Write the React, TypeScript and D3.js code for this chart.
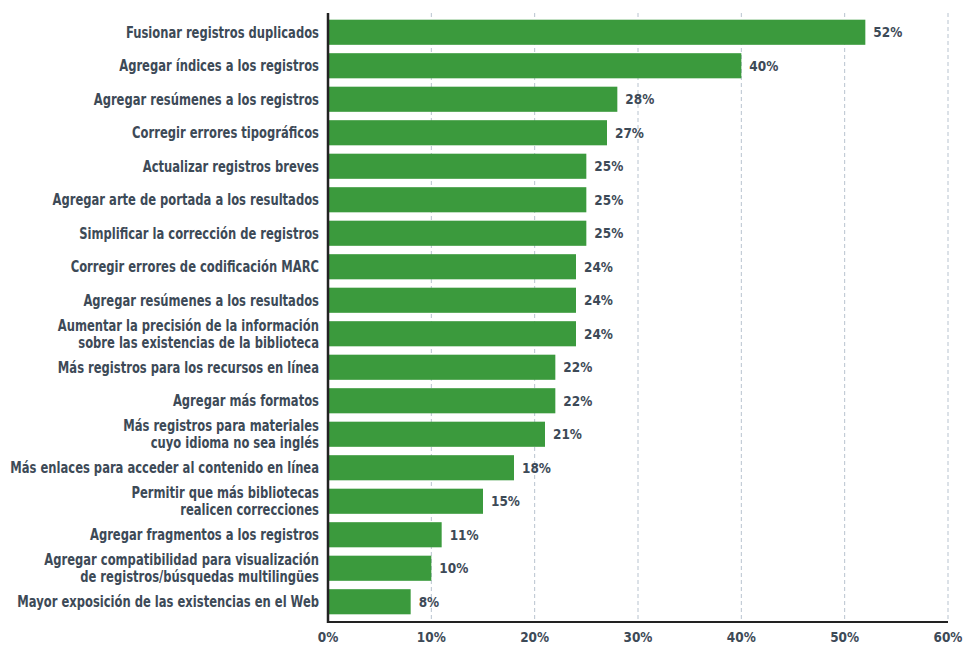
import React, { useLayoutEffect, useRef, useState } from "react";
import * as d3 from "d3";

const categories: string[][] = [
  ["Fusionar registros duplicados"],
  ["Agregar índices a los registros"],
  ["Agregar resúmenes a los registros"],
  ["Corregir errores tipográficos"],
  ["Actualizar registros breves"],
  ["Agregar arte de portada a los resultados"],
  ["Simplificar la corrección de registros"],
  ["Corregir errores de codificación MARC"],
  ["Agregar resúmenes a los resultados"],
  ["Aumentar la precisión de la información", "sobre las existencias de la biblioteca"],
  ["Más registros para los recursos en línea"],
  ["Agregar más formatos"],
  ["Más registros para materiales", "cuyo idioma no sea inglés"],
  ["Más enlaces para acceder al contenido en línea"],
  ["Permitir que más bibliotecas", "realicen correcciones"],
  ["Agregar fragmentos a los registros"],
  ["Agregar compatibilidad para visualización", "de registros/búsquedas multilingües"],
  ["Mayor exposición de las existencias en el Web"],
];
const values: number[] = [52, 40, 28, 27, 25, 25, 25, 24, 24, 24, 22, 22, 21, 18, 15, 11, 10, 8];
const ticks: number[] = [0, 10, 20, 30, 40, 50, 60];

const W = 965;
const H = 647;
const FONT = "'DejaVu Sans Condensed', 'DejaVu Sans', sans-serif";
const TEXT = "#3d4a57";
const BAR = "#3b9a3d";

export default function App() {
  const measRef = useRef<SVGTextElement>(null);
  const pctRef = useRef<SVGTextElement>(null);
  const [k, setK] = useState(0.85);
  const [kp, setKp] = useState(0.85);
  const [measured, setMeasured] = useState(false);
  useLayoutEffect(() => {
    if (measRef.current) {
      const w = measRef.current.getComputedTextLength();
      if (w > 0) setK(302 / w);
    }
    if (pctRef.current) {
      const w = pctRef.current.getComputedTextLength();
      if (w > 0) setKp(29 / w);
    }
    setMeasured(true);
  }, []);

  const x = d3.scaleLinear().domain([0, 60]).range([328, 948]);
  const idx = d3.range(values.length).map(String);
  const y = d3.scaleBand().domain(idx).range([15, 619]).paddingInner(0.25).paddingOuter(0.14);
  const top = 13;
  const bottom = 622;
  return (
    <svg width={W} height={H} style={{ position: "absolute", left: 0, top: 0 }} fontFamily={FONT}>
      {!measured && (
        <g visibility="hidden">
          <text ref={measRef} x={400} y={300} fontSize={15} fontWeight="bold">
            Mayor exposición de las existencias en el Web
          </text>
          <text ref={pctRef} x={400} y={330} fontSize={14} fontWeight="bold">
            52%
          </text>
        </g>
      )}
      {ticks.slice(1).map((t) => (
        <line key={t} x1={x(t)} x2={x(t)} y1={top} y2={bottom} stroke="#b8c3cf" strokeWidth={1} strokeDasharray="4,3" />
      ))}
      {values.map((v, i) => {
        const yy = y(String(i))!;
        const bw = y.bandwidth();
        const cy = yy + bw / 2;
        const lines = categories[i];
        return (
          <g key={i}>
            <rect x={x(0)} y={yy} width={x(v) - x(0)} height={bw} fill={BAR} />
            <text
              transform={`translate(${x(v) + 8},${cy}) scale(${kp},1)`}
              dy="0.36em"
              fontSize={14}
              fontWeight="bold"
              fill={TEXT}
            >
              {v}%
            </text>
            {lines.map((l, j) => (
              <text
                key={j}
                transform={`translate(319,${cy + (j - (lines.length - 1) / 2) * 17}) scale(${k},1)`}
                dy="0.36em"
                textAnchor="end"
                fontSize={15}
                fontWeight="bold"
                fill={TEXT}
              >
                {l}
              </text>
            ))}
          </g>
        );
      })}
      <line x1={x(0)} x2={x(0)} y1={top} y2={bottom + 1} stroke="#222" strokeWidth={2.5} />
      <line x1={x(0) - 1} x2={x(60)} y1={bottom} y2={bottom} stroke="#222" strokeWidth={2} />
      {ticks.map((t) => (
        <text
          key={t}
          transform={`translate(${x(t)},637) scale(${kp},1)`}
          dy="0.36em"
          textAnchor="middle"
          fontSize={14}
          fontWeight="bold"
          fill={TEXT}
        >
          {t}%
        </text>
      ))}
    </svg>
  );
}
